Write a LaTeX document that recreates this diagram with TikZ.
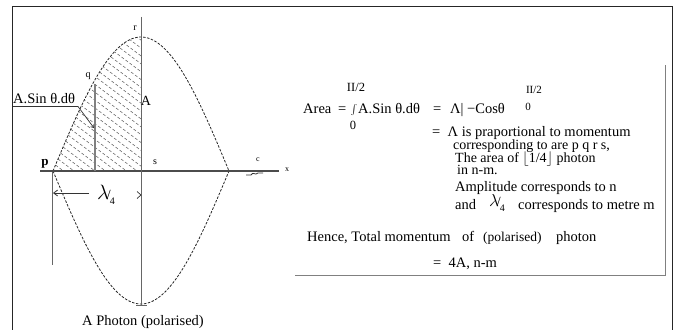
\documentclass[tikz,border=0pt]{standalone}
\usepackage{fontspec}
\setmainfont{Liberation Serif}
\usetikzlibrary{arrows.meta}
\newcommand{\lamfour}[1]{{\fontsize{#1}{#1}\selectfont$\lambda$}\kern-0.22em{\fontsize{14}{14}\selectfont/}\kern-0.1em\raisebox{-5pt}{\fontsize{10}{10}\selectfont 4}}
\begin{document}
\begin{tikzpicture}[x=1pt,y=-1pt,
  txt/.style={inner sep=0pt, anchor=base west, font=\fontsize{14.5}{16}\selectfont},
  txts/.style={inner sep=0pt, anchor=base west, font=\fontsize{14}{15}\selectfont},
  lim/.style={inner sep=0pt, font=\fontsize{12.5}{13}\selectfont},
  small/.style={inner sep=0pt, font=\fontsize{10}{11}\selectfont},
  wave/.style={line width=0.8pt, dash pattern=on 2.5pt off 1.5pt, black!85},
  hatch/.style={line width=0.55pt, dash pattern=on 3pt off 2pt, black!60},
  axisline/.style={line width=1.1pt, black!70},
  guide/.style={line width=0.7pt, black!60},
  frame/.style={line width=1.4pt, black!85},
  boxline/.style={line width=1pt, black!50},
]
\useasboundingbox (0,0) rectangle (679,329);
\fill[white] (0,0) rectangle (679,329);
% outer frame
\coordinate (f1) at (12.5,345);
\coordinate (f2) at (12.5,6.5);
\coordinate (f3) at (672.5,6.5);
\coordinate (f4) at (672.5,345);
\draw[frame] (f1) -- (f2) -- (f3) -- (f4);
% key points
\coordinate (p) at (53,171);
\coordinate (s) at (141,171);
\coordinate (e) at (229,171);
\coordinate (r) at (141,37);
\coordinate (t) at (141,304);
\coordinate (axL) at (40,171);
\coordinate (axR) at (279,171);
\coordinate (vT) at (141,17);
\coordinate (vB) at (141,306);
\coordinate (qT) at (95,84);
\coordinate (qB) at (95,171);
% hatching
\begin{scope}
\clip (p) -- plot[domain=0:90,samples=40] ({53+0.977778*\x},{171-134*sin(\x)}) -- (s) -- cycle;
\foreach \k in {0,...,28}
  \draw[hatch] ({53+10.5*\k-200},{171-150}) -- ({53+10.5*\k+200},{171+150});
\end{scope}
% waves
\draw[wave] plot[domain=0:180,samples=90] ({53+0.977778*\x},{171-134*sin(\x)});
\draw[wave] plot[domain=0:180,samples=90] ({53+0.977778*\x},{171+133*sin(\x)});
% axes
\draw[axisline] (axL) -- (axR);
\draw[guide] (vT) -- (vB);
\draw[line width=1.4pt, black!50] (qT) -- (qB);
\coordinate (tL) at (136,305);
\coordinate (tR) at (147,305);
\draw[guide] (tL) -- (tR);
% small labels on graph
\node[small] (lr) at (135,28) {r};
\node[small] (lq) at (88,76) {q};
\node[inner sep=0pt, font=\fontsize{14}{14}\selectfont] (lA) at (146,101) {A};
\node[small] (ls) at (155,162) {s};
\node[inner sep=0pt, font=\bfseries\fontsize{13}{13}\selectfont] (lp) at (45,164) {p};
\node[small, font=\fontsize{8}{8}\selectfont] (lc) at (258,160) {c};
\node[small, font=\fontsize{8}{8}\selectfont] (lx) at (287,170) {x};
\coordinate (sq1) at (246,175);
\coordinate (sq2) at (251,175);
\coordinate (sq3) at (258,173);
\coordinate (sq4) at (263,173);
\draw[line width=0.8pt, black!80] (sq1) -- (sq2) .. controls (253,171) and (255,176) .. (sq3) -- (sq4);
% A.Sin label with leader
\node[txt] (asin) at (13,103) {A.Sin θ.dθ};
\coordinate (u1) at (13,106.5);
\coordinate (u2) at (78,106.5);
\coordinate (u3) at (94,128);
\draw[line width=0.7pt, black!80, -{Straight Barb[length=2.5pt,width=4pt]}] (u1) -- (u2) -- (u3);
% lambda/4 dimension
\coordinate (dL) at (52,172);
\coordinate (dLB) at (52,265);
\draw[guide] (dL) -- (dLB);
\node[inner sep=1pt] (lam) at (106,195) {\lamfour{22}};
\coordinate (dA) at (53,193);
\coordinate (dS) at (89,193);
\draw[line width=0.8pt, black!80, -{Straight Barb[length=4pt,width=6pt]}] (dS) -- (dA);
\coordinate (ah1) at (137,191.5);
\coordinate (ah2) at (141,195);
\coordinate (ah3) at (137,198.5);
\draw[line width=0.7pt, black!80] (ah1) -- (ah2) -- (ah3);
% caption
\node[txt, anchor=base] (cap) at (143,325) {A Photon (polarised)};
% right text box
\coordinate (bx1) at (295,275.5);
\coordinate (bx2) at (665.5,275.5);
\coordinate (bx3) at (665.5,65);
\draw[boxline] (bx1) -- (bx2) -- (bx3);
\node[txt] (area) at (303,113) {Area};
\node[txt] (eq1) at (338,113) {=};
\node[inner sep=0pt, font=\fontsize{12}{12}\selectfont] (int) at (354,110) {$\int$};
\node[lim] (ulim) at (356,87) {II/2};
\node[lim] (llim) at (353,125) {0};
\node[txt] (sinA) at (358,113) {A.Sin θ.dθ};
\node[txt] (eq2) at (433,113) {=};
\node[txt] (cos) at (450,113) {Λ| −Cosθ};
\node[small, font=\fontsize{11}{11}\selectfont] (rlim) at (534,90) {II/2};
\node[small, font=\fontsize{11}{11}\selectfont] (rlow) at (528,107) {0};
\node[txt] (l1) at (432,136) {= \ Λ is praportional to momentum};
\node[txts] (l2) at (453,149) {corresponding to are p q r s,};
\node[txts] (l3) at (455,162) {The area of $\lfloor$1/4$\rfloor$ photon};
\node[txts] (l4) at (457,174.5) {in n-m.};
\node[txt] (l5) at (455,191) {Amplitude corresponds to n};
\node[txt] (l6) at (455,209) {and};
\node[inner sep=0pt] (lam2) at (497,203) {\lamfour{18}};
\node[txt] (l6b) at (518,209) {corresponds to metre m};
\node[txt] (l7) at (307,241) {Hence, Total momentum};
\node[txt] (l7b) at (462,241) {of};
\node[txt, font=\fontsize{13.5}{14}\selectfont] (l7c) at (483,241) {(polarised)};
\node[txt] (l7d) at (556,241) {photon};
\node[txt] (l8) at (433,267) {= \ 4A, n-m};
\end{tikzpicture}
\end{document}
